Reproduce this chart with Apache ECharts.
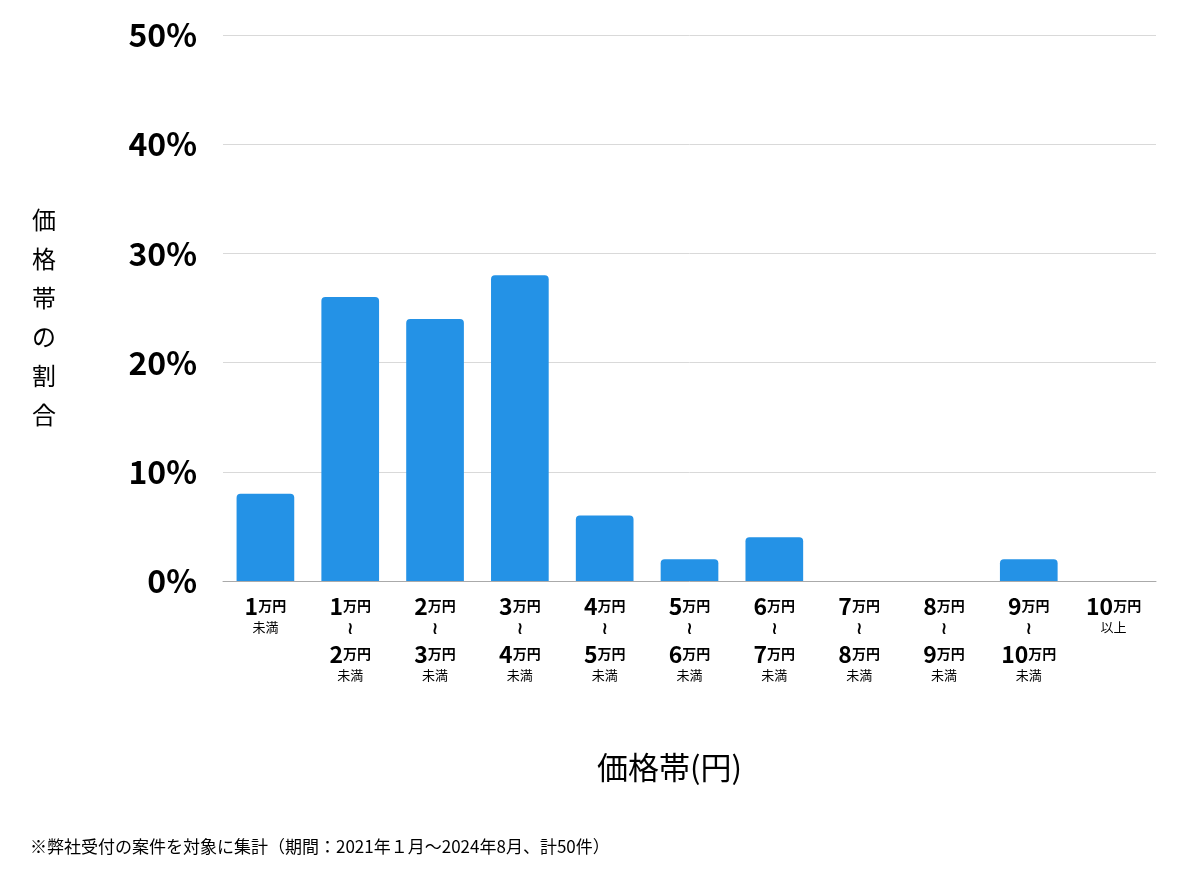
<!DOCTYPE html>
<html><head><meta charset="utf-8">
<script src="https://cdn.jsdelivr.net/npm/echarts@6/dist/echarts.min.js"></script>
<style>html,body{margin:0;padding:0;background:#fff}#c{width:1200px;height:874px}</style>
</head><body><div id="c"></div>
<script>
const categories = [
  ['1','','','未満'], ['1','2','',''], ['2','3','',''], ['3','4','',''], ['4','5','',''],
  ['5','6','',''], ['6','7','',''], ['7','8','',''], ['8','9','',''], ['9','10','',''], ['10','','','以上']
];
const values = [8, 26, 24, 28, 6, 2, 4, 0, 0, 2, 0];
const yTicks = [0, 10, 20, 30, 40, 50];

function fmt(i) {
  const c = categories[i];
  if (!c[1]) return '{n|' + c[0] + '}{u|万円}\n{s|' + c[3] + '}';
  return '{n|' + c[0] + '}{u|万円}\n{w|≀}\n{n|' + c[1] + '}{u|万円}\n{s|未満}';
}
const chart = echarts.init(document.getElementById('c'));
const F = '"Noto Sans CJK JP","Noto Sans",sans-serif';
chart.setOption({
  animation: false,
  grid: {left: 223, right: 44, top: 35, bottom: 293},
  xAxis: {
    type: 'category', data: categories.map((c, i) => i),
    axisTick: {show: false},
    axisLine: {lineStyle: {color: '#aaa'}},
    axisLabel: {
      interval: 0, margin: 12, formatter: (v) => fmt(+v), lineHeight: 22,
      rich: {
        n: {fontFamily: F, fontWeight: 'bold', fontSize: 23, color: '#000', lineHeight: 26},
        u: {fontFamily: F, fontWeight: 'bold', fontSize: 14, color: '#000', lineHeight: 26},
        s: {fontFamily: F, fontSize: 13, color: '#000', lineHeight: 16},
        w: {fontFamily: 'DejaVu Sans', fontWeight: 'bold', fontSize: 17, color: '#000', lineHeight: 22}
      }
    }
  },
  yAxis: {
    type: 'value', min: 0, max: 50, interval: 10,
    splitLine: {lineStyle: {color: '#d9d9d9'}},
    axisLabel: {formatter: '{value}%', fontFamily: F, fontWeight: 'bold', fontSize: 32, color: '#000', margin: 26}
  },
  series: [{
    type: 'bar', data: values, barCategoryGap: '32%',
    itemStyle: {color: '#2492e6', borderRadius: [4, 4, 0, 0]}
  }],
  graphic: [
    {type: 'text', left: 32, top: 200, style: {text: '価\n格\n帯\nの\n割\n合', font: '24px ' + F, fill: '#000', lineHeight: 39}},
    {type: 'text', left: 597, top: 752, style: {text: '価格帯(円)', font: '31px ' + F, fill: '#000'}},
    {type: 'text', left: 30, top: 838, style: {text: '※弊社受付の案件を対象に集計（期間：2021年１月〜2024年8月、計50件）', font: '17px ' + F, fill: '#000'}}
  ]
});
</script></body></html>
